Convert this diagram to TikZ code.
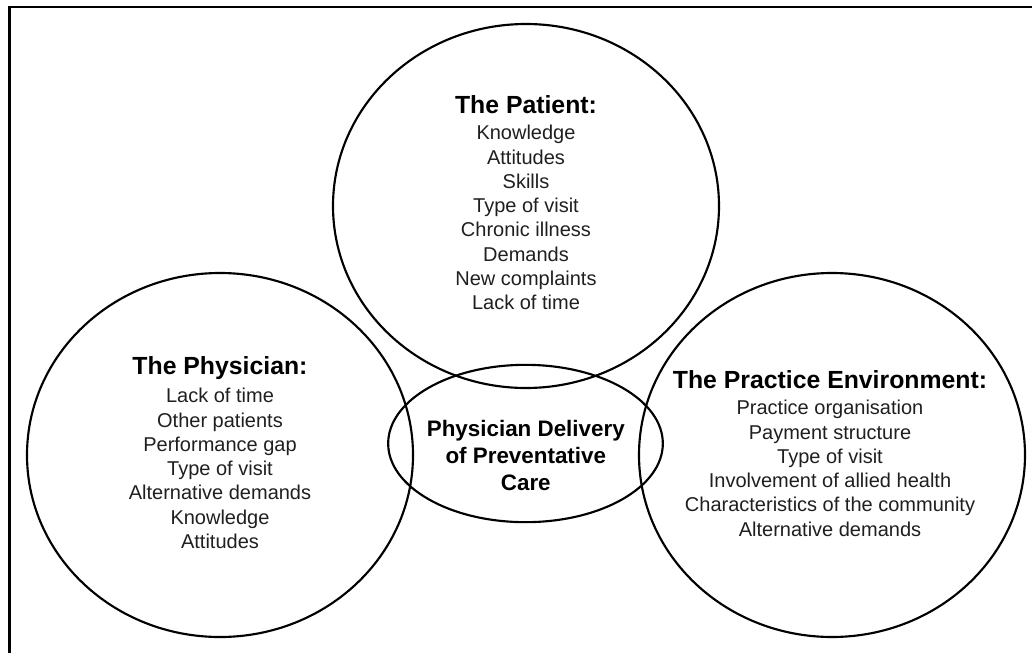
\documentclass[tikz,border=0pt]{standalone}
\usepackage{fontspec}
\setmainfont{Liberation Sans}
\usetikzlibrary{shapes.geometric}
\tikzset{
  venn/.style={draw=black, line width=1.6pt, ellipse, inner sep=0pt,
    minimum width=289.5pt, minimum height=273pt},
  core/.style={draw=black, line width=1.6pt, ellipse, inner sep=0pt,
    minimum width=206pt, minimum height=118pt},
  ttl/.style={anchor=base, inner sep=0pt, text=black,
    font=\fontsize{18.6pt}{22pt}\selectfont\bfseries},
  items/.style={anchor=north, inner sep=0pt, align=center, text=black!88,
    font=\fontsize{15pt}{18.2pt}\selectfont},
  corelbl/.style={anchor=north, inner sep=0pt, align=center, text=black,
    font=\fontsize{16.8pt}{20.3pt}\selectfont\bfseries},
  frame/.style={line width=1.8pt, line cap=rect}
}
\begin{document}
\begin{tikzpicture}[x=0.75pt, y=-0.75pt]
\useasboundingbox (0,0) rectangle (1032,653);
% frame (top and left edges visible)
\coordinate (ftr) at (1032,7);
\coordinate (ftl) at (9.5,7);
\coordinate (fbl) at (9.5,653);
\draw[frame] (ftr) -- (ftl) -- (fbl);
% circles
\node[venn] (patient) at (526,206) {};
\node[venn] (physician) at (220,455) {};
\node[venn] (practice) at (832,455) {};
\node[core] (delivery) at (525.5,443.5) {};
% patient text
\node[ttl] (patientT) at (526,113) {The Patient:};
\node[items] (patientL) at (526,125) {Knowledge\\Attitudes\\Skills\\Type of visit\\Chronic illness\\Demands\\New complaints\\Lack of time};
% physician text
\node[ttl] (physicianT) at (220,374) {The Physician:};
\node[items] (physicianL) at (220,388) {Lack of time\\Other patients\\Performance gap\\Type of visit\\Alternative demands\\Knowledge\\Attitudes};
% practice text
\node[ttl] (practiceT) at (830,388) {The Practice Environment:};
\node[items] (practiceL) at (830,400) {Practice organisation\\Payment structure\\Type of visit\\Involvement of allied health\\Characteristics of the community\\Alternative demands};
% core text
\node[corelbl] (deliveryL) at (525.8,420) {Physician Delivery\\of Preventative\\Care};
\end{tikzpicture}
\end{document}
